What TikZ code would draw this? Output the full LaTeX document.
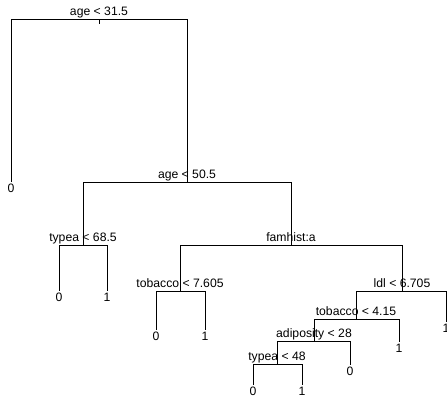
\documentclass[tikz,border=0pt]{standalone}
\usepackage{fontspec}
\setmainfont{Liberation Sans}
\usetikzlibrary{positioning}

\begin{document}
\begin{tikzpicture}[
  x = 1bp,
  y = -1bp,
  split/.style = {
    inner sep = 0pt,
    minimum size = 0pt,
  },
  cond/.style = {
    anchor = base,
    inner sep = 0pt,
    yshift = 3.5bp,
    font = \fontsize{12.2bp}{14bp}\selectfont,
  },
  leaf/.style = {
    anchor = north,
    inner xsep = 0pt,
    inner ysep = 2bp,
    font = \fontsize{12.2bp}{14bp}\selectfont,
  },
  branch/.style = {
    draw,
    line width = 1bp,
  },
]

  \useasboundingbox (0,0) rectangle (447,398);

  % splits
  \node[split] (s0) at (99,19) {};
  \node[split] (s1) at (187,182) {};
  \node[split] (s2) at (83,245) {};
  \node[split] (s3) at (291,245) {};
  \node[split] (s4) at (180,291) {};
  \node[split] (s5) at (402,291) {};
  \node[split] (s6) at (356,319) {};
  \node[split] (s7) at (314,341) {};
  \node[split] (s8) at (277,364) {};
  \coordinate (t0) at (99,24);

  \node[cond] (c0) at (s0) {age < 31.5};
  \node[cond] (c1) at (s1) {age < 50.5};
  \node[cond] (c2) at (s2) {typea < 68.5};
  \node[cond] (c3) at (s3) {famhist:a};
  \node[cond] (c4) at (s4) {tobacco < 7.605};
  \node[cond] (c5) at (s5) {ldl < 6.705};
  \node[cond] (c6) at (s6) {tobacco < 4.15};
  \node[cond] (c7) at (s7) {adiposity < 28};
  \node[cond] (c8) at (s8) {typea < 48};

  % leaves
  \node[leaf] (l0) at (11,182) {0};
  \node[leaf] (l1) at (59,291) {0};
  \node[leaf] (l2) at (107,291) {1};
  \node[leaf] (l3) at (156,330) {0};
  \node[leaf] (l4) at (205,330) {1};
  \node[leaf] (l5) at (446,322) {1};
  \node[leaf] (l6) at (399,342) {1};
  \node[leaf] (l7) at (350,365) {0};
  \node[leaf] (l8) at (253,385) {0};
  \node[leaf] (l9) at (302,385) {1};

  \path[branch] (s0) -- (t0);
  \path[branch] (s0) -| (l0);
  \path[branch] (s0) -| (s1);
  \path[branch] (s1) -| (s2);
  \path[branch] (s1) -| (s3);
  \path[branch] (s2) -| (l1);
  \path[branch] (s2) -| (l2);
  \path[branch] (s3) -| (s4);
  \path[branch] (s3) -| (s5);
  \path[branch] (s4) -| (l3);
  \path[branch] (s4) -| (l4);
  \path[branch] (s5) -| (s6);
  \path[branch] (s5) -| (l5);
  \path[branch] (s6) -| (s7);
  \path[branch] (s6) -| (l6);
  \path[branch] (s7) -| (s8);
  \path[branch] (s7) -| (l7);
  \path[branch] (s8) -| (l8);
  \path[branch] (s8) -| (l9);

\end{tikzpicture}
\end{document}
